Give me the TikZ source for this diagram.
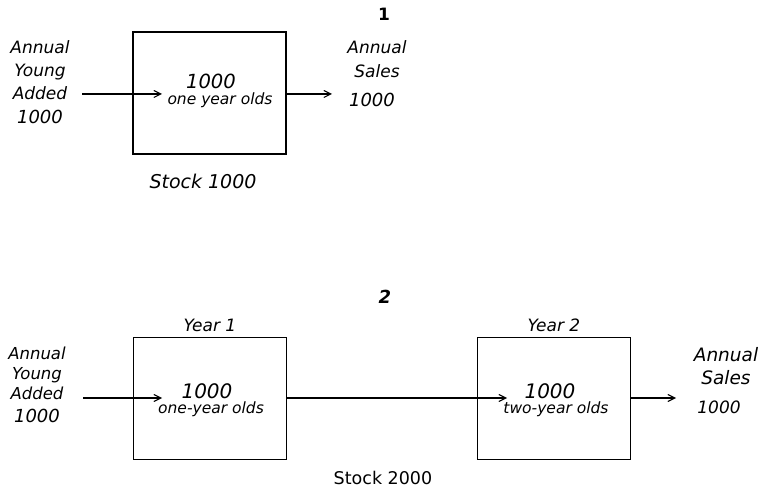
\documentclass[tikz,border=0pt]{standalone}
\usepackage{fontspec}
\setmainfont{DejaVu Sans}
\usetikzlibrary{arrows.meta, positioning}

\begin{document}
\begin{tikzpicture}[
  x=1pt, y=1pt, >={Straight Barb[length=7pt, width=7pt]},
  stockbox/.style={
    draw, line width=1.6pt,
    minimum width=153pt, minimum height=122pt
  },
  hand/.style={font=\fontsize{17}{22}\selectfont\itshape, align=center, inner sep=0pt},
  small/.style={font=\fontsize{15.5}{15.5}\selectfont\itshape, align=center, inner sep=0pt},
  flow/.style={->, line width=1.1pt},
]
\useasboundingbox (0,0) rectangle (760,493);
% --- DIAGRAM 1 ---
\node[hand, font=\fontsize{17}{17}\selectfont\bfseries] (n1) at (384,479) {1};
\node[stockbox] (box1) at (209.5,400) {};
\node[hand] (cnt1) at (211,412) {\fontsize{19.5}{19.5}\selectfont 1000};
\node[small, below=4pt of cnt1, xshift=9pt] (age1) {one year olds};
\node[hand, font=\fontsize{17}{23}\selectfont\itshape] (in1) at (40,423)
  {Annual\\Young\\Added};
\node[hand, font=\fontsize{18}{18}\selectfont\itshape, below=10pt of in1] (inn1) {1000};
\coordinate (in1e) at (82,399);
\coordinate (box1in) at (162,399);
\draw[flow] (in1e) -- (box1in);
\coordinate (out1e) at (332,399);
\draw[flow] (box1.east |- out1e) -- (out1e);
\node[hand, font=\fontsize{17}{24}\selectfont\itshape] (out1) at (377,434)
  {Annual\\Sales};
\node[hand, font=\fontsize{18}{18}\selectfont\itshape] (outn1) at (372,393) {1000};
\node[hand, font=\fontsize{19}{19}\selectfont\itshape] (stock1) at (203,312) {Stock 1000};
% --- DIAGRAM 2 ---
\node[hand, font=\fontsize{18}{18}\selectfont\bfseries\itshape] (n2) at (385,196) {2};
\node[stockbox] (year1) at (210,94.5) {};
\node[stockbox] (year2) at (554,94.5) {};
\node[hand, above=5pt of year1] (lab1) {Year 1};
\node[hand, above=5pt of year2] (lab2) {Year 2};
\node[hand] (cnt2) at (207,102) {\fontsize{20}{20}\selectfont 1000};
\node[small, below=3pt of cnt2, xshift=4pt] (age2) {one-year olds};
\node[hand] (cnt3) at (550,102) {\fontsize{20}{20}\selectfont 1000};
\node[small, below=3pt of cnt3, xshift=6pt] (age3) {two-year olds};
\node[hand, font=\fontsize{16.5}{20}\selectfont\itshape] (in2) at (37,120)
  {Annual\\Young\\Added};
\node[hand, font=\fontsize{18}{18}\selectfont\itshape, below=9pt of in2] (inn2) {1000};
\coordinate (in2e) at (83,95);
\coordinate (year1in) at (162,95);
\draw[flow] (in2e) -- (year1in);
\coordinate (year2in) at (507,95);
\draw[flow] (year1.east |- year2in) -- (year2in);
\coordinate (out2e) at (676,95);
\draw[flow] (year2.east |- out2e) -- (out2e);
\node[hand, font=\fontsize{18.5}{23}\selectfont\itshape] (out2) at (726,127)
  {Annual\\Sales};
\node[hand, font=\fontsize{17}{17}\selectfont\itshape] (outn2) at (719,86) {1000};
\node[hand, font=\fontsize{17.5}{17.5}\selectfont] (stock2) at (383,15) {Stock 2000};
\end{tikzpicture}
\end{document}
